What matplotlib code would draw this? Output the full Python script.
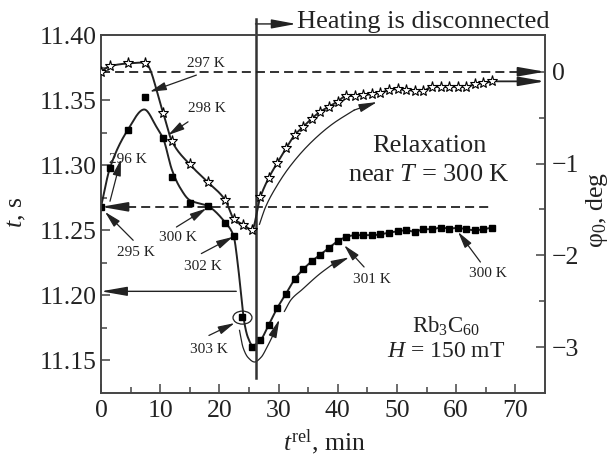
import numpy as np
import matplotlib
matplotlib.use("Agg")
import matplotlib.pyplot as plt
from matplotlib.patches import Ellipse

plt.rcParams['font.family'] = ['Liberation Serif', 'DejaVu Serif']
plt.rcParams['mathtext.fontset'] = 'custom'
plt.rcParams['mathtext.rm'] = 'Liberation Serif'
plt.rcParams['mathtext.it'] = 'Liberation Serif:italic'
plt.rcParams['mathtext.bf'] = 'Liberation Serif:bold'

INK = '#222222'
AX = '#444444'

# ---------------- data ----------------
# squares: period t (s), left axis
square_x = [0, 1.5, 4.5, 7.4, 10.5, 12.0, 15.0, 18.0, 21.0, 22.4, 23.85, 25.5, 26.9,
            28.35, 29.8, 31.25, 32.7, 34.15, 35.6, 37.05, 38.5, 39.95, 41.4, 42.85, 44.3,
            45.75, 47.2, 48.65, 50.1, 51.55, 53.0, 54.45, 55.9, 57.35, 58.8, 60.25, 61.7,
            63.15, 64.6, 66.05]
square_t = [11.268, 11.2975, 11.327, 11.352, 11.3205, 11.291, 11.2713, 11.2687, 11.2559,
            11.2456, 11.1833, 11.1602, 11.1654,
            11.1775, 11.1905, 11.2013, 11.2123, 11.2200, 11.2262, 11.2313, 11.2364, 11.2415,
            11.2448, 11.2462, 11.2462, 11.2462, 11.2469, 11.2482, 11.2492, 11.2500, 11.2487,
            11.2508, 11.2508, 11.2521, 11.2513, 11.2518, 11.2508, 11.2500, 11.2508, 11.2521]
# smooth guide curve through the squares (first part)
square_fit_x = [0, 1.5, 4.5, 7.3, 9.4, 10.5, 12.0, 13.3, 15.0, 18.0, 21.0, 22.4, 23.1,
                23.7, 24.25, 24.8, 25.6, 26.9]
square_fit_t = [11.268, 11.2977, 11.3269, 11.3428, 11.3292, 11.3205, 11.2962, 11.2831,
                11.2731, 11.2687, 11.2559, 11.2456, 11.2244, 11.1987, 11.1782, 11.1679,
                11.1615, 11.1654]

# stars: phase phi0 (deg), right axis
star_x = [0, 1.5, 4.5, 7.4, 10.5, 12.0, 15.0, 18.0, 21.0, 22.4, 24.0, 25.5,
          26.9, 28.35, 29.8, 31.25, 32.7, 34.15, 35.6, 37.05, 38.5, 39.95, 41.4, 42.85,
          44.3, 45.75, 47.2, 48.65, 50.1, 51.55, 53.0, 54.45, 55.9, 57.35, 58.8, 60.25,
          61.7, 63.15, 64.6, 66.05]
star_phi = [0.0, 0.06, 0.09, 0.10, -0.45, -0.76, -1.01, -1.20, -1.40, -1.60, -1.665, -1.72,
            -1.37, -1.155, -0.99, -0.835, -0.69, -0.60, -0.51, -0.435, -0.38, -0.325, -0.265,
            -0.265, -0.255, -0.245, -0.23, -0.20, -0.19, -0.20, -0.205, -0.205, -0.165,
            -0.165, -0.165, -0.165, -0.165, -0.135, -0.125, -0.105]

x_ticks = [0, 10, 20, 30, 40, 50, 60, 70]
t_ticks = [11.15, 11.20, 11.25, 11.30, 11.35, 11.40]
phi_ticks = [0, -1, -2, -3]
phi_ticklabels = ['0', '\u22121', '\u22122', '\u22123']

# point labels: (text, text x, text baseline t, arrow tail (x,t), arrow tip (x,t))
labels = [
    ('297 K', 17.68, 11.3754, (16.11, 11.3692), (8.25, 11.3564)),
    ('298 K', 17.85, 11.3408, (14.70, 11.3333), (11.33, 11.3231)),
    ('296 K', 4.55, 11.3015, (1.52, 11.2723), (3.37, 11.3046)),
    ('295 K', 5.89, 11.2300, (5.44, 11.2423), (0.67, 11.2641)),
    ('300 K', 13.05, 11.2419, (12.74, 11.2525), (17.79, 11.2667)),
    ('302 K', 17.17, 11.2196, (16.95, 11.2321), (22.27, 11.2449)),
    ('303 K', 18.18, 11.1554, (18.23, 11.1692), (22.56, 11.1787)),
    ('301 K', 45.71, 11.2092, (44.44, 11.2218), (41.08, 11.2385)),
    ('300 K', 65.32, 11.2142, (64.09, 11.2256), (60.32, 11.2487)),
]

# relaxation guide arcs (x, t)
arc1_x = [26.77, 27.78, 29.46, 31.82, 35.35, 39.06, 42.76, 46.63]
arc1_t = [11.2546, 11.2677, 11.2823, 11.2985, 11.3169, 11.3315, 11.3423, 11.3485]
arc2_x = [23.40, 23.99, 24.83, 25.93, 27.02, 28.11, 29.12, 30.13]
arc2_t = [11.1731, 11.1600, 11.1523, 11.1488, 11.1523, 11.1608, 11.1700, 11.1815]
arc3_x = [30.98, 32.15, 34.01, 36.87, 38.89, 41.92]
arc3_t = [11.1877, 11.1969, 11.2046, 11.2162, 11.2231, 11.2292]

heat_off_x = 26.1


def pchip(x, y, n=25):
    x = np.asarray(x, float)
    y = np.asarray(y, float)
    h = np.diff(x)
    d = np.diff(y) / h
    m = np.zeros_like(y)
    m[0] = d[0]
    m[-1] = d[-1]
    for k in range(1, len(x) - 1):
        if d[k - 1] * d[k] <= 0:
            m[k] = 0.0
        else:
            w1 = 2 * h[k] + h[k - 1]
            w2 = h[k] + 2 * h[k - 1]
            m[k] = (w1 + w2) / (w1 / d[k - 1] + w2 / d[k])
    xs, ys = [], []
    for k in range(len(x) - 1):
        s = np.linspace(0, 1, n, endpoint=(k == len(x) - 2))
        h00 = 2 * s**3 - 3 * s**2 + 1
        h10 = s**3 - 2 * s**2 + s
        h01 = -2 * s**3 + 3 * s**2
        h11 = s**3 - s**2
        xs.append(x[k] + s * h[k])
        ys.append(h00 * y[k] + h10 * h[k] * m[k] + h01 * y[k + 1] + h11 * h[k] * m[k + 1])
    return np.concatenate(xs), np.concatenate(ys)


def arrow(axis, tail, tip, lw=0.9, hl=1.0, hw=0.25, ms=10):
    axis.annotate('', xy=tip, xytext=tail, annotation_clip=False,
                  arrowprops=dict(arrowstyle=f'-|>,head_length={hl},head_width={hw}',
                                  lw=lw, color=INK, shrinkA=0, shrinkB=0,
                                  mutation_scale=ms))


fig = plt.figure(figsize=(6.11, 4.61), dpi=100)
ax = fig.add_axes([101 / 611, 1 - 393 / 461, 444 / 611, 358 / 461])
ax2 = ax.twinx()

ax.set_xlim(0, 75)
ax.set_ylim(11.125, 11.40)
ax2.set_ylim(-3.5, 0.4)

for a in (ax, ax2):
    for s in a.spines.values():
        s.set_color(AX)
        s.set_linewidth(1.2)

ax.set_xticks(x_ticks)
ax.set_xticklabels([str(v) for v in x_ticks])
ax.set_xticks([5, 15, 25, 35, 45, 55, 65], minor=True)
ax.set_yticks(t_ticks)
ax.set_yticklabels([f'{v:.2f}' for v in t_ticks])
ax.set_yticks([11.175, 11.225, 11.275, 11.325, 11.375], minor=True)
ax2.set_yticks(phi_ticks)
ax2.set_yticklabels(phi_ticklabels)
ax2.set_yticks([-0.5, -1.5, -2.5], minor=True)

ax.tick_params(which='both', direction='in', top=False, right=False, color=AX,
               labelcolor=INK, labelsize=18.5, width=1.1)
ax.tick_params(which='major', length=6.5)
ax.tick_params(which='minor', length=4.3)
ax.tick_params(axis='x', pad=5)
ax.tick_params(axis='y', pad=3)
ax2.tick_params(which='both', direction='in', color=AX, labelcolor=INK,
                labelsize=18.5, width=1.1, pad=5)
ax2.tick_params(which='major', length=6.5)
ax2.tick_params(which='minor', length=4.3)

# squares + guide curve
k0 = square_x.index(28.35)
cx, cy = pchip(square_fit_x + square_x[k0:], square_fit_t + square_t[k0:])
ax.plot(cx, cy, color=INK, lw=1.4, zorder=3)
ax.plot(square_x, square_t, ls='none', marker='s', ms=4.5, color='black', zorder=4)

# stars + curve
sx, sy = pchip(star_x, star_phi)
ax2.plot(sx, sy, color=INK, lw=1.4, zorder=3)
ax2.plot(star_x, star_phi, ls='none', marker='*', ms=8, mfc='white', mec='black',
         mew=0.8, zorder=4)

# dashed reference lines
ax2.plot([0, 72], [0, 0], color=INK, lw=1.3, ls=(0, (5, 2.8)), zorder=2)
arrow(ax2, (71.5, 0), (75, 0), lw=1.3, hl=1.6, hw=0.28)
ax.plot([2, 66], [square_t[0]] * 2, color=INK, lw=1.3, ls=(0, (5, 2.8)), zorder=2)
arrow(ax, (3.8, square_t[0]), (0, square_t[0]), lw=1.3, hl=1.6, hw=0.28)

# solid arrows to axes
arrow(ax, (22.85, 11.2031), (0, 11.2031), lw=1.0, hl=1.6, hw=0.28)
arrow(ax2, (66.8, star_phi[-1]), (75, star_phi[-1]), lw=1.3, hl=1.6, hw=0.28)

# heating disconnected
ax.plot([heat_off_x, heat_off_x], [11.1362, 11.4123], color='#333333', lw=1.8,
        clip_on=False, zorder=5)
arrow(ax, (heat_off_x, 11.4085), (32.95, 11.4085), lw=1.0, hl=1.5, hw=0.28)
ax.text(33.16, 11.4054, 'Heating is disconnected', fontsize=19, color=INK,
        ha='left', va='baseline', clip_on=False)

# point labels
for txt, tx, ty, tail, tip in labels:
    ax.text(tx, ty, txt, fontsize=11, color=INK, ha='center', va='baseline', zorder=6)
    arrow(ax, tail, tip, lw=0.9, hl=1.0, hw=0.25)

# circle around the 303 K point
ax.add_patch(Ellipse((23.9, 11.1829), 3.2, 0.0100, fill=False, ec=INK, lw=0.9, zorder=5))

# relaxation arcs
for axx, att, in [(arc1_x, arc1_t), (arc2_x, arc2_t), (arc3_x, arc3_t)]:
    px, py = pchip(axx[:-1], att[:-1])
    ax.plot(px, py, color=INK, lw=0.9, zorder=2)
    arrow(ax, (axx[-2], att[-2]), (axx[-1], att[-1]), lw=0.9, hl=1.1, hw=0.25)

# text blocks
ax.text(55.39, 11.3100, 'Relaxation', fontsize=19, color=INK, ha='center', va='baseline')
ax.text(55.39, 11.2881, 'near $T$ = 300 K', fontsize=19, color=INK, ha='center',
        va='baseline')
ax.text(58.25, 11.1712, 'Rb$_3$C$_{60}$', fontsize=16.5, color=INK, ha='center',
        va='baseline')
ax.text(58.25, 11.1526, '$H$ = 150 mT', fontsize=17, color=INK, ha='center', va='baseline')

# axis labels
fig.text(17 / 611, 1 - 212 / 461, '$t$, s', rotation=90, fontsize=18.5, color=INK,
         ha='center', va='center')
fig.text(597 / 611, 1 - 210 / 461, '$\\mathrm{\u03c6}_0$, deg', rotation=90, fontsize=18.5,
         color=INK, ha='center', va='center')
fig.text(324 / 611, 1 - 450 / 461, '$t^{\\mathrm{rel}}$, min', fontsize=18.5, color=INK,
         ha='center', va='baseline')

fig.savefig('out.png', dpi=100)
